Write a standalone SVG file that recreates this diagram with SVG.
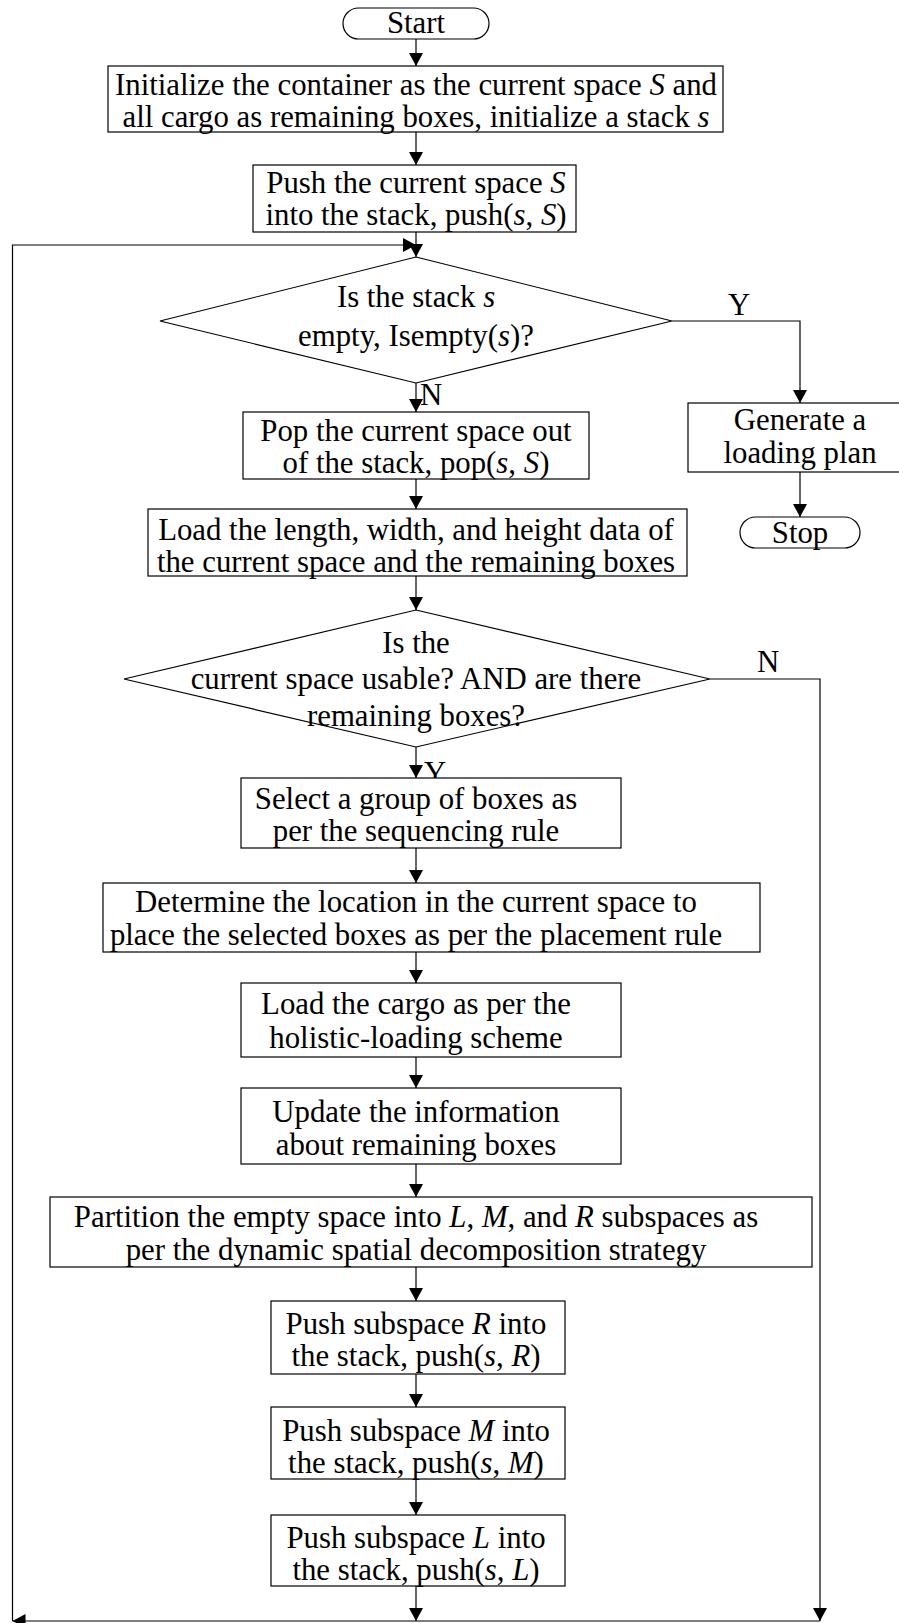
<svg xmlns="http://www.w3.org/2000/svg" width="899" height="1623" viewBox="0 0 899 1623">
<defs>
<style>
.n{fill:#fff;stroke:#000;stroke-width:1.2}
.t{font-family:"Liberation Serif","Times New Roman",serif;font-size:30.8px;fill:#000;text-anchor:middle}
.l{font-family:"Liberation Serif","Times New Roman",serif;font-size:30.8px;fill:#000}
.c{fill:none;stroke:#000;stroke-width:1.2}
</style>
<marker id="a" viewBox="0 0 13 14" refX="13" refY="7" markerWidth="13" markerHeight="14" markerUnits="userSpaceOnUse" orient="auto"><path d="M0,0 L13,7 L0,14 z" fill="#000"/></marker>
</defs>
<rect width="899" height="1623" fill="#fff"/>
<g id="connectors">
<path class="c" d="M416,39 V66" marker-end="url(#a)"/>
<path class="c" d="M416,132 V165" marker-end="url(#a)"/>
<path class="c" d="M416,232 V257" marker-end="url(#a)"/>
<path class="c" d="M12.5,1621 V245 H416" marker-end="url(#a)"/>
<path class="c" d="M416,383 V412" marker-end="url(#a)"/>
<path class="c" d="M672,321 H800 V403" marker-end="url(#a)"/>
<path class="c" d="M800,472 V517" marker-end="url(#a)"/>
<path class="c" d="M416,479 V509" marker-end="url(#a)"/>
<path class="c" d="M416,576 V610" marker-end="url(#a)"/>
<path class="c" d="M416,747 V778" marker-end="url(#a)"/>
<path class="c" d="M710,679 H820 V1621" marker-end="url(#a)"/>
<path class="c" d="M416,848 V883" marker-end="url(#a)"/>
<path class="c" d="M416,952 V983" marker-end="url(#a)"/>
<path class="c" d="M416,1057 V1088" marker-end="url(#a)"/>
<path class="c" d="M416,1164 V1197" marker-end="url(#a)"/>
<path class="c" d="M416,1267 V1301" marker-end="url(#a)"/>
<path class="c" d="M416,1374 V1407" marker-end="url(#a)"/>
<path class="c" d="M416,1479 V1515" marker-end="url(#a)"/>
<path class="c" d="M416,1586 V1621" marker-end="url(#a)"/>
<path class="c" d="M820,1621 H12.5" marker-end="url(#a)"/>
<text class="l" x="728" y="315">Y</text>
<text class="l" x="420" y="405">N</text>
<text class="l" x="757" y="672">N</text>
<text class="l" x="424" y="783">Y</text>
</g>
<g id="start"><rect class="n" x="343" y="8" width="146" height="31" rx="15.5"/><text class="t" x="416" y="33">Start</text></g>
<g id="init"><rect class="n" x="108" y="66" width="615" height="66"/><text class="t" x="416" y="95">Initialize the container as the current space <tspan font-style="italic">S</tspan> and</text><text class="t" x="416" y="127">all cargo as remaining boxes, initialize a stack <tspan font-style="italic">s</tspan></text></g>
<g id="push-s"><rect class="n" x="253" y="165" width="323" height="67"/><text class="t" x="416" y="193">Push the current space <tspan font-style="italic">S</tspan></text><text class="t" x="416" y="225">into the stack, push(<tspan font-style="italic">s</tspan>, <tspan font-style="italic">S</tspan>)</text></g>
<g id="is-empty"><polygon class="n" points="416,257 672,321 416,383 160,321"/><text class="t" x="416" y="307">Is the stack <tspan font-style="italic">s</tspan></text><text class="t" x="416" y="346">empty, Isempty(<tspan font-style="italic">s</tspan>)?</text></g>
<g id="generate"><rect class="n" x="688" y="403" width="224" height="69"/><text class="t" x="800" y="430">Generate a</text><text class="t" x="800" y="463">loading plan</text></g>
<g id="stop"><rect class="n" x="740" y="517" width="120" height="31" rx="15.5"/><text class="t" x="800" y="543">Stop</text></g>
<g id="pop"><rect class="n" x="243" y="412" width="346" height="67"/><text class="t" x="416" y="441">Pop the current space out</text><text class="t" x="416" y="473">of the stack, pop(<tspan font-style="italic">s</tspan>, <tspan font-style="italic">S</tspan>)</text></g>
<g id="load-data"><rect class="n" x="148" y="509" width="539" height="67"/><text class="t" x="416" y="540">Load the length, width, and height data of</text><text class="t" x="416" y="572">the current space and the remaining boxes</text></g>
<g id="usable"><polygon class="n" points="416,610 710,679 416,747 124,679"/><text class="t" x="416" y="653">Is the</text><text class="t" x="416" y="689">current space usable? AND are there</text><text class="t" x="416" y="726">remaining boxes?</text></g>
<g id="select"><rect class="n" x="241" y="778" width="380" height="70"/><text class="t" x="416" y="809">Select a group of boxes as</text><text class="t" x="416" y="841">per the sequencing rule</text></g>
<g id="determine"><rect class="n" x="103" y="883" width="657" height="69"/><text class="t" x="416" y="912">Determine the location in the current space to</text><text class="t" x="416" y="945">place the selected boxes as per the placement rule</text></g>
<g id="load-cargo"><rect class="n" x="241" y="983" width="380" height="74"/><text class="t" x="416" y="1014">Load the cargo as per the</text><text class="t" x="416" y="1048">holistic-loading scheme</text></g>
<g id="update"><rect class="n" x="241" y="1088" width="380" height="76"/><text class="t" x="416" y="1122">Update the information</text><text class="t" x="416" y="1155">about remaining boxes</text></g>
<g id="partition"><rect class="n" x="50" y="1197" width="762" height="70"/><text class="t" x="416" y="1227">Partition the empty space into <tspan font-style="italic">L</tspan>, <tspan font-style="italic">M</tspan>, and <tspan font-style="italic">R</tspan> subspaces as</text><text class="t" x="416" y="1260">per the dynamic spatial decomposition strategy</text></g>
<g id="push-r"><rect class="n" x="271" y="1301" width="294" height="73"/><text class="t" x="416" y="1334">Push subspace <tspan font-style="italic">R</tspan> into</text><text class="t" x="416" y="1366">the stack, push(<tspan font-style="italic">s</tspan>, <tspan font-style="italic">R</tspan>)</text></g>
<g id="push-m"><rect class="n" x="271" y="1407" width="294" height="72"/><text class="t" x="416" y="1441">Push subspace <tspan font-style="italic">M</tspan> into</text><text class="t" x="416" y="1473">the stack, push(<tspan font-style="italic">s</tspan>, <tspan font-style="italic">M</tspan>)</text></g>
<g id="push-l"><rect class="n" x="271" y="1515" width="294" height="71"/><text class="t" x="416" y="1548">Push subspace <tspan font-style="italic">L</tspan> into</text><text class="t" x="416" y="1580">the stack, push(<tspan font-style="italic">s</tspan>, <tspan font-style="italic">L</tspan>)</text></g>
</svg>
